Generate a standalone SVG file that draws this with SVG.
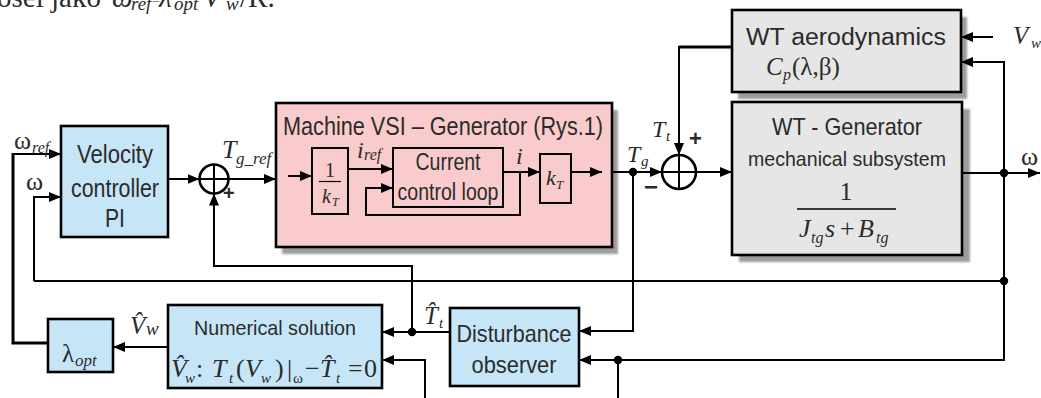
<svg xmlns="http://www.w3.org/2000/svg" width="1041" height="398" viewBox="0 0 1041 398">
<style>
.box{stroke:#000;stroke-width:2.6}
.blue{fill:#c6e6f8}
.pink{fill:#f9cbcc}
.gray{fill:#e6e6e6}
.shadow{fill:#9c9c9c;filter:url(#blur)}
.lbl{font-family:"Liberation Sans Narrow","Liberation Sans",Arial,sans-serif;fill:#2b2b2b;text-anchor:middle}
.m{font-family:"Liberation Serif","Times New Roman",serif;fill:#2b2b2b}
.i{font-style:italic}
.sgn{font-family:"Liberation Sans",Arial,sans-serif;font-weight:bold;fill:#2b2b2b}
.w{fill:none;stroke:#000;stroke-width:2}
.wt{fill:none;stroke:#000;stroke-width:3}
.dot{fill:#000}
</style>
<defs>
<filter id="blur" x="-10%" y="-10%" width="120%" height="120%"><feGaussianBlur stdDeviation="1.2"/></filter>
<marker id="ah" markerWidth="12" markerHeight="10" refX="12" refY="5" orient="auto" markerUnits="userSpaceOnUse"><path d="M0,0 L12,5 L0,10 z" fill="#000"/></marker>
</defs>
<rect width="1041" height="398" fill="#fff"/>

<g id="caption">
<text class="m" font-size="29" y="7"><tspan x="-3">osel jako</tspan><tspan x="112" class="i">ω</tspan><tspan x="131" y="10" class="i" font-size="19">ref</tspan><tspan x="152" y="5" font-size="14">=</tspan><tspan x="159" y="7" class="i">λ</tspan><tspan x="174" y="10" class="i" font-size="19">opt</tspan><tspan x="203" y="7" class="i">V</tspan><tspan x="226" y="10" class="i" font-size="19">w</tspan><tspan x="240" y="7">/R.</tspan></text>
</g>

<g id="velocity-controller">
<rect class="box blue" x="61" y="126" width="107" height="111"/>
<text class="lbl" x="115" y="163" font-size="25" textLength="76" lengthAdjust="spacingAndGlyphs">Velocity</text>
<text class="lbl" x="115" y="197" font-size="25" textLength="88" lengthAdjust="spacingAndGlyphs">controller</text>
<text class="lbl" x="115" y="227" font-size="25" textLength="20" lengthAdjust="spacingAndGlyphs">PI</text>
</g>

<g id="sum1">
<circle cx="214" cy="179" r="14.5" fill="none" stroke="#000" stroke-width="2.6"/>
<path d="M199.5,179 H228.5 M214,164.5 V193.5" stroke="#000" stroke-width="2"/>
<text class="sgn" x="223" y="200" font-size="20">+</text>
</g>

<g id="machine-vsi">
<rect class="shadow" x="282" y="110" width="336" height="144"/>
<rect class="box pink" x="276" y="103" width="336" height="144"/>
<text class="lbl" x="443" y="135" font-size="26" textLength="320" lengthAdjust="spacingAndGlyphs">Machine VSI – Generator (Rys.1)</text>
<g id="inv-kt">
<rect x="312" y="148" width="36" height="66" fill="none" stroke="#000" stroke-width="2"/>
<text class="m" x="330" y="177" font-size="20" text-anchor="middle">1</text>
<line x1="319" y1="181.5" x2="341" y2="181.5" stroke="#000" stroke-width="1.2"/>
<text class="m i" font-size="20" y="203"><tspan x="322">k</tspan><tspan x="332" y="206" font-size="12">T</tspan></text>
</g>
<g id="current-loop">
<rect x="393" y="148" width="110" height="59" fill="none" stroke="#000" stroke-width="2"/>
<text class="lbl" x="448" y="170" font-size="23" textLength="65" lengthAdjust="spacingAndGlyphs">Current</text>
<text class="lbl" x="448" y="200" font-size="23" textLength="101" lengthAdjust="spacingAndGlyphs">control loop</text>
</g>
<g id="kt">
<rect x="540" y="154" width="31" height="49" fill="none" stroke="#000" stroke-width="2"/>
<text class="m i" font-size="22" y="185"><tspan x="546">k</tspan><tspan x="556" y="189" font-size="13">T</tspan></text>
</g>
<text class="m i" font-size="24" y="158"><tspan x="357">i</tspan><tspan x="364" y="160" font-size="16">ref</tspan></text>
<text class="m i" x="516" y="164" font-size="24">i</text>
</g>

<g id="sum2">
<circle cx="679" cy="172" r="17" fill="none" stroke="#000" stroke-width="2.6"/>
<path d="M662,172 H696 M679,155 V189" stroke="#000" stroke-width="2"/>
<text class="sgn" x="689" y="146" font-size="22">+</text>
<text class="sgn" x="644" y="195" font-size="24">−</text>
</g>

<g id="wt-aerodynamics">
<rect class="shadow" x="738" y="17" width="229" height="82"/>
<rect class="box gray" x="732" y="10" width="229" height="82"/>
<text class="lbl" x="846" y="45" font-size="23" textLength="200" lengthAdjust="spacingAndGlyphs">WT aerodynamics</text>
<text class="m" font-size="25" y="75"><tspan x="766" class="i">C</tspan><tspan x="783" y="80" class="i" font-size="16">p</tspan><tspan x="792" y="75">(λ,β)</tspan></text>
</g>

<g id="wt-generator">
<rect class="shadow" x="739" y="109" width="231" height="153"/>
<rect class="box gray" x="732" y="102" width="230" height="153"/>
<text class="lbl" x="847" y="135" font-size="24" textLength="150" lengthAdjust="spacingAndGlyphs">WT - Generator</text>
<text class="lbl" x="847" y="166" font-size="21" textLength="198" lengthAdjust="spacingAndGlyphs">mechanical subsystem</text>
<text class="m" x="846" y="200" font-size="26" text-anchor="middle">1</text>
<line x1="797" y1="209" x2="896" y2="209" stroke="#000" stroke-width="1.3"/>
<text class="m" font-size="26" y="237"><tspan x="799" class="i">J</tspan><tspan x="811" y="243" class="i" font-size="16">tg</tspan><tspan x="825" y="237" class="i">s</tspan><tspan x="840">+</tspan><tspan x="858" class="i">B</tspan><tspan x="876" y="243" class="i" font-size="16">tg</tspan></text>
</g>

<g id="lambda-opt">
<rect class="box blue" x="48" y="319" width="65" height="53"/>
<text class="m" font-size="25" y="362"><tspan x="62">λ</tspan><tspan x="75" y="366" class="i" font-size="17">opt</tspan></text>
</g>

<g id="numerical-solution">
<rect class="box blue" x="168" y="305" width="214" height="83"/>
<text class="lbl" x="275" y="335" font-size="21" textLength="162" lengthAdjust="spacingAndGlyphs">Numerical solution</text>
<text class="m" font-size="26" y="377"><tspan x="171" class="i">V̂</tspan><tspan x="185" y="383" class="i" font-size="15">w</tspan><tspan x="196" y="377">:</tspan><tspan x="212" class="i">T</tspan><tspan x="229" y="383" class="i" font-size="15">t</tspan><tspan x="236" y="377">(</tspan><tspan x="245" class="i">V</tspan><tspan x="261" y="383" class="i" font-size="15">w</tspan><tspan x="275" y="377">)</tspan><tspan x="287">|</tspan><tspan x="293" y="383" font-size="15">ω</tspan><tspan x="305" y="377">−</tspan><tspan x="320" class="i">T̂</tspan><tspan x="336" y="383" class="i" font-size="15">t</tspan><tspan x="348" y="377">=</tspan><tspan x="364">0</tspan></text>
</g>

<g id="disturbance-observer">
<rect class="box blue" x="450" y="308" width="129" height="78"/>
<text class="lbl" x="514" y="342" font-size="24" textLength="115" lengthAdjust="spacingAndGlyphs">Disturbance</text>
<text class="lbl" x="514" y="373" font-size="24" textLength="85" lengthAdjust="spacingAndGlyphs">observer</text>
</g>

<g id="connectors">
<path class="w" d="M13,154 H61" marker-end="url(#ah)"/>
<path class="w" d="M34,281 V197 H61" marker-end="url(#ah)"/>
<path class="wt" d="M48,343 H13 V153"/>
<path class="w" d="M168,179 H199.5" marker-end="url(#ah)"/>
<path class="w" d="M228.5,179 H276" marker-end="url(#ah)"/>
<path class="w" d="M412,331 V266 H214 V193.5" marker-end="url(#ah)"/>
<path class="w" d="M288,176 H312" marker-end="url(#ah)"/>
<path class="w" d="M348,169 H393" marker-end="url(#ah)"/>
<path class="w" d="M503,172 H540" marker-end="url(#ah)"/>
<path class="w" d="M520,172 V215 H366 V188 H393" marker-end="url(#ah)"/>
<path class="w" d="M571,172 H602" marker-end="url(#ah)"/>
<path class="w" d="M612,172 H662" marker-end="url(#ah)"/>
<path class="w" d="M633,172 V331 H579" marker-end="url(#ah)"/>
<path class="wt" d="M732,47 H679"/>
<path class="w" d="M679,46 V155" marker-end="url(#ah)"/>
<path class="w" d="M696,172 H732" marker-end="url(#ah)"/>
<path class="w" d="M993,37 H961" marker-end="url(#ah)"/>
<path class="w" d="M1004,282 V62 H961" marker-end="url(#ah)"/>
<path class="w" d="M962,173 H1040" marker-end="url(#ah)"/>
<path class="w" d="M34,281 H1004 V360 H579" marker-end="url(#ah)"/>
<path class="w" d="M618,360 V398"/>
<path class="w" d="M450,332 H382" marker-end="url(#ah)"/>
<path class="w" d="M425,398 V360 H382" marker-end="url(#ah)"/>
<path class="w" d="M168,347 H113" marker-end="url(#ah)"/>
<circle class="dot" cx="633" cy="172" r="4.2"/>
<circle class="dot" cx="1004" cy="173" r="4.2"/>
<circle class="dot" cx="1004" cy="281" r="4.2"/>
<circle class="dot" cx="412" cy="332" r="4.2"/>
<circle class="dot" cx="618" cy="360" r="4.2"/>
</g>

<g id="signal-labels" class="m">
<text font-size="26" y="149"><tspan x="14">ω</tspan><tspan x="32" y="153" class="i" font-size="16">ref</tspan></text>
<text x="26" y="190" font-size="26">ω</text>
<text class="i" font-size="26" y="158"><tspan x="222">T</tspan><tspan x="236" y="164" font-size="17">g_ref</tspan></text>
<text class="i" font-size="24" y="162"><tspan x="627">T</tspan><tspan x="641" y="166" font-size="15">g</tspan></text>
<text class="i" font-size="24" y="137"><tspan x="652">T</tspan><tspan x="666" y="141" font-size="15">t</tspan></text>
<text class="i" font-size="25" y="44"><tspan x="1013">V</tspan><tspan x="1031" y="48" font-size="15">w</tspan></text>
<text x="1021" y="165" font-size="26">ω</text>
<text class="i" font-size="25" y="324"><tspan x="424">T̂</tspan><tspan x="439" y="328" font-size="15">t</tspan></text>
<text class="i" font-size="25" y="334"><tspan x="130">V̂</tspan><tspan x="146" y="335" font-size="19">w</tspan></text>
</g>
</svg>
